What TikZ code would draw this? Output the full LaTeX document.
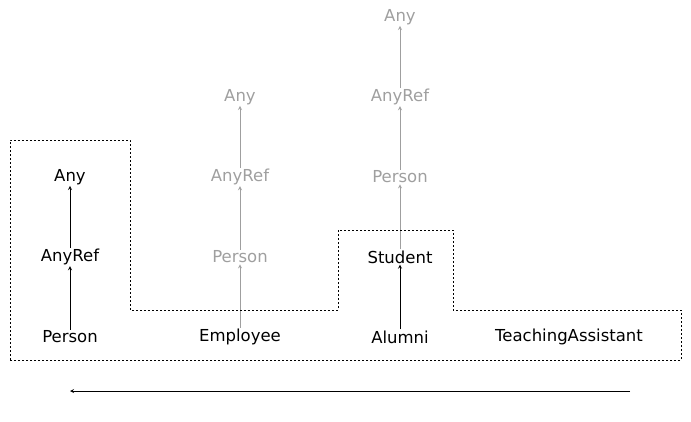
\documentclass[tikz,border=0pt]{standalone}
\usepackage{fontspec}
\setmainfont{DejaVu Sans}
\begin{document}
\begin{tikzpicture}[x=1pt,y=-1pt,
  t/.style={inner sep=1pt,font=\fontsize{16.5}{18}\selectfont},
  g/.style={t,text=gray!75},
  a/.style={->,>=stealth,line width=0.8pt},
  ga/.style={a,draw=gray!75}]
\useasboundingbox (0,0) rectangle (691,421);
\node[t] (p1) at (70,337) {Person};
\node[t] (r1) at (70,257) {AnyRef};
\node[t] (y1) at (70,177) {Any};
\draw[a] (p1) -- (r1); \draw[a] (r1) -- (y1);
\node[t] (e2) at (240,337) {Employee};
\node[g] (p2) at (240,257) {Person};
\node[g] (r2) at (240,177) {AnyRef};
\node[g] (y2) at (240,97) {Any};
\draw[ga] (e2) -- (p2); \draw[ga] (p2) -- (r2); \draw[ga] (r2) -- (y2);
\node[t] (a3) at (400,337) {Alumni};
\node[t] (s3) at (400,257) {Student};
\node[g] (p3) at (400,177) {Person};
\node[g] (r3) at (400,97) {AnyRef};
\node[g] (y3) at (400,17) {Any};
\draw[a] (a3) -- (s3); \draw[ga] (s3) -- (p3); \draw[ga] (p3) -- (r3); \draw[ga] (r3) -- (y3);
\node[t] (ta) at (569,337) {TeachingAssistant};
\draw[dashed,dash pattern=on 2pt off 2pt,line width=0.7pt] (10,360) -- (10,140) -- (130,140) -- (130,310) -- (338,310) -- (338,230) -- (453,230) -- (453,310) -- (681,310) -- (681,360) -- cycle;
\coordinate (s) at (630,391); \coordinate (e) at (70,391);
\draw[a] (s) -- (e);
\end{tikzpicture}
\end{document}
